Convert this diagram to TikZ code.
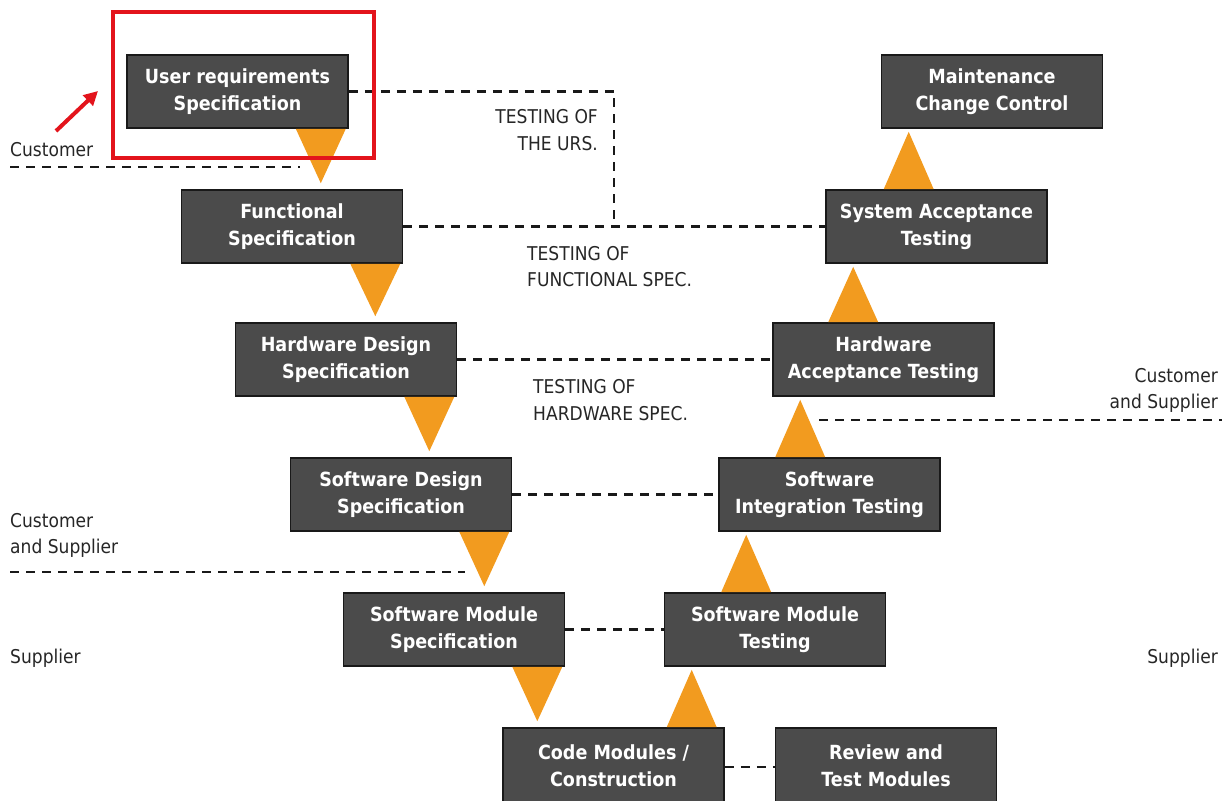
\documentclass[tikz,border=0pt]{standalone}
\usepackage{fontspec}
\setmainfont{DejaVu Sans}[FakeStretch=0.9]
\usetikzlibrary{calc,arrows.meta}
\definecolor{boxgray}{HTML}{4B4B4B}
\definecolor{vorange}{HTML}{F29B1F}
\definecolor{hired}{HTML}{E3141C}
\tikzset{
  stage/.style={draw=black!90, line width=1.6pt, fill=boxgray, text=white,
    minimum width=221pt, minimum height=73pt, inner sep=0pt, align=center,
    font=\fontsize{19.5}{27}\selectfont\bfseries},
  stageshadow/.style={fill=black!60, draw=none},
  dashline/.style={line width=2.6pt, dash pattern=on 9pt off 7pt, color=black!90},
  tri/.style={fill=vorange},
  lbl/.style={inner sep=0pt, font=\fontsize{19}{26.5}\selectfont, text=black!85}
}
% down-pointing triangle from the right end of #1 to the top of #2
\newcommand{\downtri}[2]{%
  \path ($(#1.south east)+(-53,0)$) coordinate (ta)
        ($(#1.south east)+(-3,0)$) coordinate (tb)
        ($(ta)!0.5!(tb)$) coordinate (tm)
        ($(#2.north)+(0,-6)$) coordinate (tc);
  \fill[tri] (ta) -- (tb) -- (tm |- tc) -- cycle;}
% up-pointing triangle from the top of #1 to the left end of #2
\newcommand{\uptri}[2]{%
  \path ($(#2.south west)+(3,0)$) coordinate (ta)
        ($(#2.south west)+(53,0)$) coordinate (tb)
        ($(ta)!0.5!(tb)$) coordinate (tm)
        ($(#1.north)$) coordinate (tc);
  \fill[tri] (ta |- tc) -- (tb |- tc) -- ($(tm)+(0,3)$) -- cycle;}
\begin{document}
\begin{tikzpicture}[x=1pt,y=-1pt]
\useasboundingbox (0,0) rectangle (1227,801);

% specification side
\node[stage] (urs) at (237.5,91.5) {User requirements\\Specification};
\node[stage] (fs)  at (292,226.5)  {Functional\\Specification};
\node[stage] (hds) at (346,359.5)  {Hardware Design\\Specification};
\node[stage] (sds) at (401,494.5)  {Software Design\\Specification};
\node[stage] (sms) at (454,629.5)  {Software Module\\Specification};
\node[stage, minimum height=76pt] (cm) at (613.5,766) {Code Modules /\\Construction};
% testing side
\node[stage, minimum height=76pt] (rtm) at (886,766) {Review and\\Test Modules};
\node[stage] (smt) at (775,629.5)  {Software Module\\Testing};
\node[stage] (sit) at (829.5,494.5){Software\\Integration Testing};
\node[stage] (hat) at (883.5,359.5){Hardware\\Acceptance Testing};
\node[stage] (sat) at (936.5,226.5){System Acceptance\\Testing};
\node[stage] (mcc) at (992,91.5)   {Maintenance\\Change Control};

% verification links
\coordinate (ursdrop) at (614,226.5);
\draw[dashline] (urs.east) -| (ursdrop);
\draw[dashline] (fs.east) -- (sat.west);
\draw[dashline] (hds.east) -- (hat.west);
\draw[dashline] (sds.east) -- (sit.west);
\draw[dashline] (sms.east) -- (smt.west);
\draw[dashline] ($(cm.east)+(0,1)$) -- ($(rtm.west)+(0,1)$);

% responsibility boundaries
\coordinate (custA) at (10,167);
\coordinate (custB) at (300,167);
\coordinate (csA) at (10,572);
\coordinate (csB) at (465,572);
\coordinate (csC) at (819,420);
\coordinate (csD) at (1222,420);
\draw[dashline] (custA) -- (custB);
\draw[dashline] (csA) -- (csB);
\draw[dashline] (csC) -- (csD);

% flow triangles
\downtri{urs}{fs}
\downtri{fs}{hds}
\downtri{hds}{sds}
\downtri{sds}{sms}
\downtri{sms}{cm}
\uptri{cm}{smt}
\uptri{smt}{sit}
\uptri{sit}{hat}
\uptri{hat}{sat}
\uptri{sat}{mcc}

% labels
\node[lbl, anchor=east, align=right] (t1) at (598,130) {TESTING OF\\THE URS.};
\node[lbl, anchor=west, align=left] (t2) at (527,266.5) {TESTING OF\\FUNCTIONAL SPEC.};
\node[lbl, anchor=west, align=left] (t3) at (533,400) {TESTING OF\\HARDWARE SPEC.};
\node[lbl, anchor=west] (c1) at (10,150) {Customer};
\node[lbl, anchor=west, align=left] (c2) at (10,535.5) {Customer\\and Supplier};
\node[lbl, anchor=east, align=right] (c3) at (1218,390.5) {Customer\\and Supplier};
\node[lbl, anchor=west] (s1) at (10,658) {Supplier};
\node[lbl, anchor=east] (s2) at (1218,658) {Supplier};

% highlight
\node[draw=hired, line width=4pt, minimum width=261pt, minimum height=146pt,
      inner sep=0pt] (hl) at (243.5,85) {};
\coordinate (arA) at (56,131);
\coordinate (arB) at (98,91);
\draw[hired, line width=4pt, -{Triangle[length=14pt,width=14pt]}] (arA) -- (arB);
\end{tikzpicture}
\end{document}
